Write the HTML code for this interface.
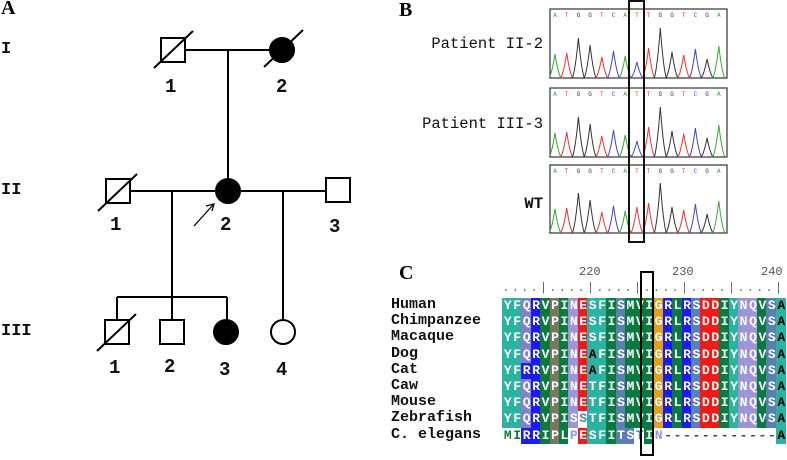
<!DOCTYPE html>
<html><head><meta charset="utf-8"><style>
body{margin:0;background:#fff;width:787px;height:460px;overflow:hidden;position:relative}
.t{position:absolute;font-family:"Liberation Mono",monospace;font-weight:bold;color:#111;white-space:pre}
.s{position:absolute;font-family:"Liberation Serif",serif;font-weight:bold;font-size:20px}
</style></head><body>
<div class="s" style="left:1px;top:-3px">A</div>
<div class="s" style="left:399px;top:-1px">B</div>
<div class="s" style="left:399px;top:262px">C</div>

<svg width="787" height="460" style="position:absolute;left:0;top:0" stroke="#000" stroke-width="2" fill="none">
<line x1="185" y1="50" x2="270" y2="50"/>
<line x1="228" y1="50" x2="228" y2="179"/>
<line x1="130" y1="191" x2="216" y2="191"/>
<line x1="240" y1="191" x2="326" y2="191"/>
<line x1="172" y1="191" x2="172" y2="320"/>
<line x1="283" y1="191" x2="283" y2="320"/>
<line x1="117" y1="297" x2="227" y2="297"/>
<line x1="117" y1="297" x2="117" y2="320"/>
<line x1="227" y1="297" x2="227" y2="320"/>
<rect x="161" y="38" width="24" height="24"/>
<circle cx="282" cy="50" r="12" fill="#000"/>
<rect x="106" y="179" width="24" height="24"/>
<circle cx="228" cy="191" r="12" fill="#000"/>
<rect x="326" y="178" width="24" height="24"/>
<rect x="105" y="320" width="24" height="24"/>
<rect x="160" y="320" width="24" height="24"/>
<circle cx="226" cy="332" r="12" fill="#000"/>
<circle cx="283" cy="332" r="12"/>
<line x1="154" y1="68" x2="193" y2="31"/>
<line x1="264" y1="67" x2="303" y2="30"/>
<line x1="98" y1="211" x2="137" y2="174"/>
<line x1="97" y1="351" x2="136" y2="314"/>
<line x1="194" y1="226" x2="213" y2="205" stroke-width="1.3"/>
<path d="M206 206 L214 204 L212 211" stroke-width="1.3"/>
</svg>
<div class="t" style="font-size:17px;left:1px;top:40px">I</div>
<div class="t" style="font-size:17px;left:1px;top:181px">II</div>
<div class="t" style="font-size:17px;left:1px;top:322px">III</div>
<div class="t" style="font-size:19px;left:165px;top:76px">1</div>
<div class="t" style="font-size:19px;left:276px;top:76px">2</div>
<div class="t" style="font-size:19px;left:110px;top:214px">1</div>
<div class="t" style="font-size:19px;left:220px;top:214px">2</div>
<div class="t" style="font-size:19px;left:329px;top:216px">3</div>
<div class="t" style="font-size:19px;left:109px;top:357px">1</div>
<div class="t" style="font-size:19px;left:164px;top:356px">2</div>
<div class="t" style="font-size:19px;left:219px;top:359px">3</div>
<div class="t" style="font-size:19px;left:276px;top:359px">4</div>

<div class="t" style="font-size:15.5px;font-weight:normal;right:244px;top:35px">Patient II-2</div>
<div class="t" style="font-size:15.5px;font-weight:normal;right:244px;top:115px">Patient III-3</div>
<div class="t" style="font-size:15.5px;right:244px;top:195px">WT</div>
<svg id="chrom" width="787" height="460" style="position:absolute;left:0;top:0"></svg>

<div id="aln"></div>
<div class="t" style="font-size:12px;left:579px;top:265px;font-weight:normal;color:#555">220</div>
<div class="t" style="font-size:12px;left:672px;top:265px;font-weight:normal;color:#555">230</div>
<div class="t" style="font-size:12px;left:761px;top:265px;font-weight:normal;color:#555">240</div>
<div class="t" style="font-size:15px;left:391px;top:297px;line-height:16.2px">Human
Chimpanzee
Macaque
Dog
Cat
Caw
Mouse
Zebrafish
C. elegans</div>
<svg width="787" height="460" style="position:absolute;left:0;top:0"><rect x="641" y="272" width="12" height="183" fill="none" stroke="#000" stroke-width="2"/></svg>

<script>
(function(){
var s=document.getElementById('chrom'),h='';
var bases='ATGGTCATTGGTCGA',col={A:'#3a3',T:'#e33',G:'#333',C:'#44c'};
var H=[24,25,40,33,21,27,22,16,30,50,26,23,29,19,32];
var tops=[9,88,165],bots=[78,157,233];
for(var p=0;p<3;p++){
 var t=tops[p],b=bots[p];
 h+='<rect x="550" y="'+t+'" width="177" height="'+(b-t)+'" fill="none" stroke="#333" stroke-width="1.2"/>';
 for(var i=0;i<15;i++){
  var x=555+i*11.7,c=bases[i],hh=H[i];
  var pc=col[c];
  if(i==7){ if(p<2){pc='#44c';hh=16;} else {pc='#e33';hh=26;} }
  h+='<text x="'+x+'" y="'+(t+8)+'" font-size="6" font-family="Liberation Mono" text-anchor="middle" fill="'+col[c]+'">'+c+'</text>';
  h+='<path d="M'+(x-6)+' '+b+' Q'+(x-3)+' '+(b-hh*0.2)+' '+x+' '+(b-hh)+' Q'+(x+3)+' '+(b-hh*0.2)+' '+(x+6)+' '+b+'" fill="none" stroke="'+pc+'" stroke-width="1"/>';
 }
}
h+='<rect x="629" y="1" width="15" height="241" fill="none" stroke="#111" stroke-width="2"/>';
s.innerHTML=h;

var C={t:'#2bb3a0',p:'#8181c9',b:'#1c1cf0',g:'#0c7a3e',n:'#7e7466',l:'#9d95d8',r:'#ef1b1b',s:'#5a7fb0',o:'#e0a020',w:'#fff'};
var cols='ttpbgnglrttgsgggobgbsrrgtllgst';
var rows=['YFQRVPINESFISMVIGRLRSDDIYNQVSA','YFQRVPINESFISMVIGRLRSDDIYNQVSA','YFQRVPINESFISMVIGRLRSDDIYNQVSA',
'YFQRVPINEAFISMVIGRLRSDDIYNQVSA','YFRRVPINEAFISMVIGRLRSDDIYNQVSA','YFQRVPINETFISMVIGRLRSDDIYNQVSA',
'YFQRVPINETFISMVIGRLRSDDIYNQVSA','YFQRVPISSTFISMVIGRLRSDDIYNQVSA','MIRRIPLPESFITSTIN------------A'];
var a='',x0=502.3,w=9.43,y0=298,rh=16.2;
var dots='';
for(var i=0;i<30;i++){dots+=(i%5==4)?'|':'.';}
a+='<div class="t" style="font-size:12px;font-weight:normal;color:#666;left:'+x0+'px;top:281px;letter-spacing:2.2px">'+dots+'</div>';
for(var r=0;r<9;r++){
 for(var i=0;i<30;i++){
  var ch=rows[r].charAt(i),bg=C[cols[i]],fg='#fff';
  if(r==4&&i==2)bg=C.b;
  if((r==3||r==4)&&i==9)fg='#000';
  if(r==7){if(i==7)bg=C.l;if(i==8){bg='#fff';fg=C.s;}}
  if(r==8){var m={0:['w','#0c7a3e'],1:['w','#0c7a3e'],2:['b'],3:['b'],4:['g'],5:['n'],6:['g'],7:['w','#9d95d8'],8:['r'],9:['t'],10:['t'],11:['g'],12:['s'],13:['s'],14:['w','#5a7fb0'],15:['g'],16:['w','#9d95d8']};
   if(i<17){bg=C[m[i][0]];fg=m[i][1]||'#fff';} else if(i<29){bg='#fff';fg='#444';} else {bg=C.t;fg='#000';}}
  if(i==29&&r<8)fg='#000';
  a+='<div class="t" style="left:'+(x0+i*w).toFixed(1)+'px;top:'+(y0+r*rh).toFixed(1)+'px;width:'+(w+0.6).toFixed(1)+'px;height:'+(rh+0.5).toFixed(1)+'px;overflow:hidden;background:'+bg+';color:'+fg+';font-size:13px;line-height:16px;text-align:center;letter-spacing:-1px">'+ch+'</div>';
 }
}
document.getElementById('aln').innerHTML=a;
})();
</script>
</body></html>
